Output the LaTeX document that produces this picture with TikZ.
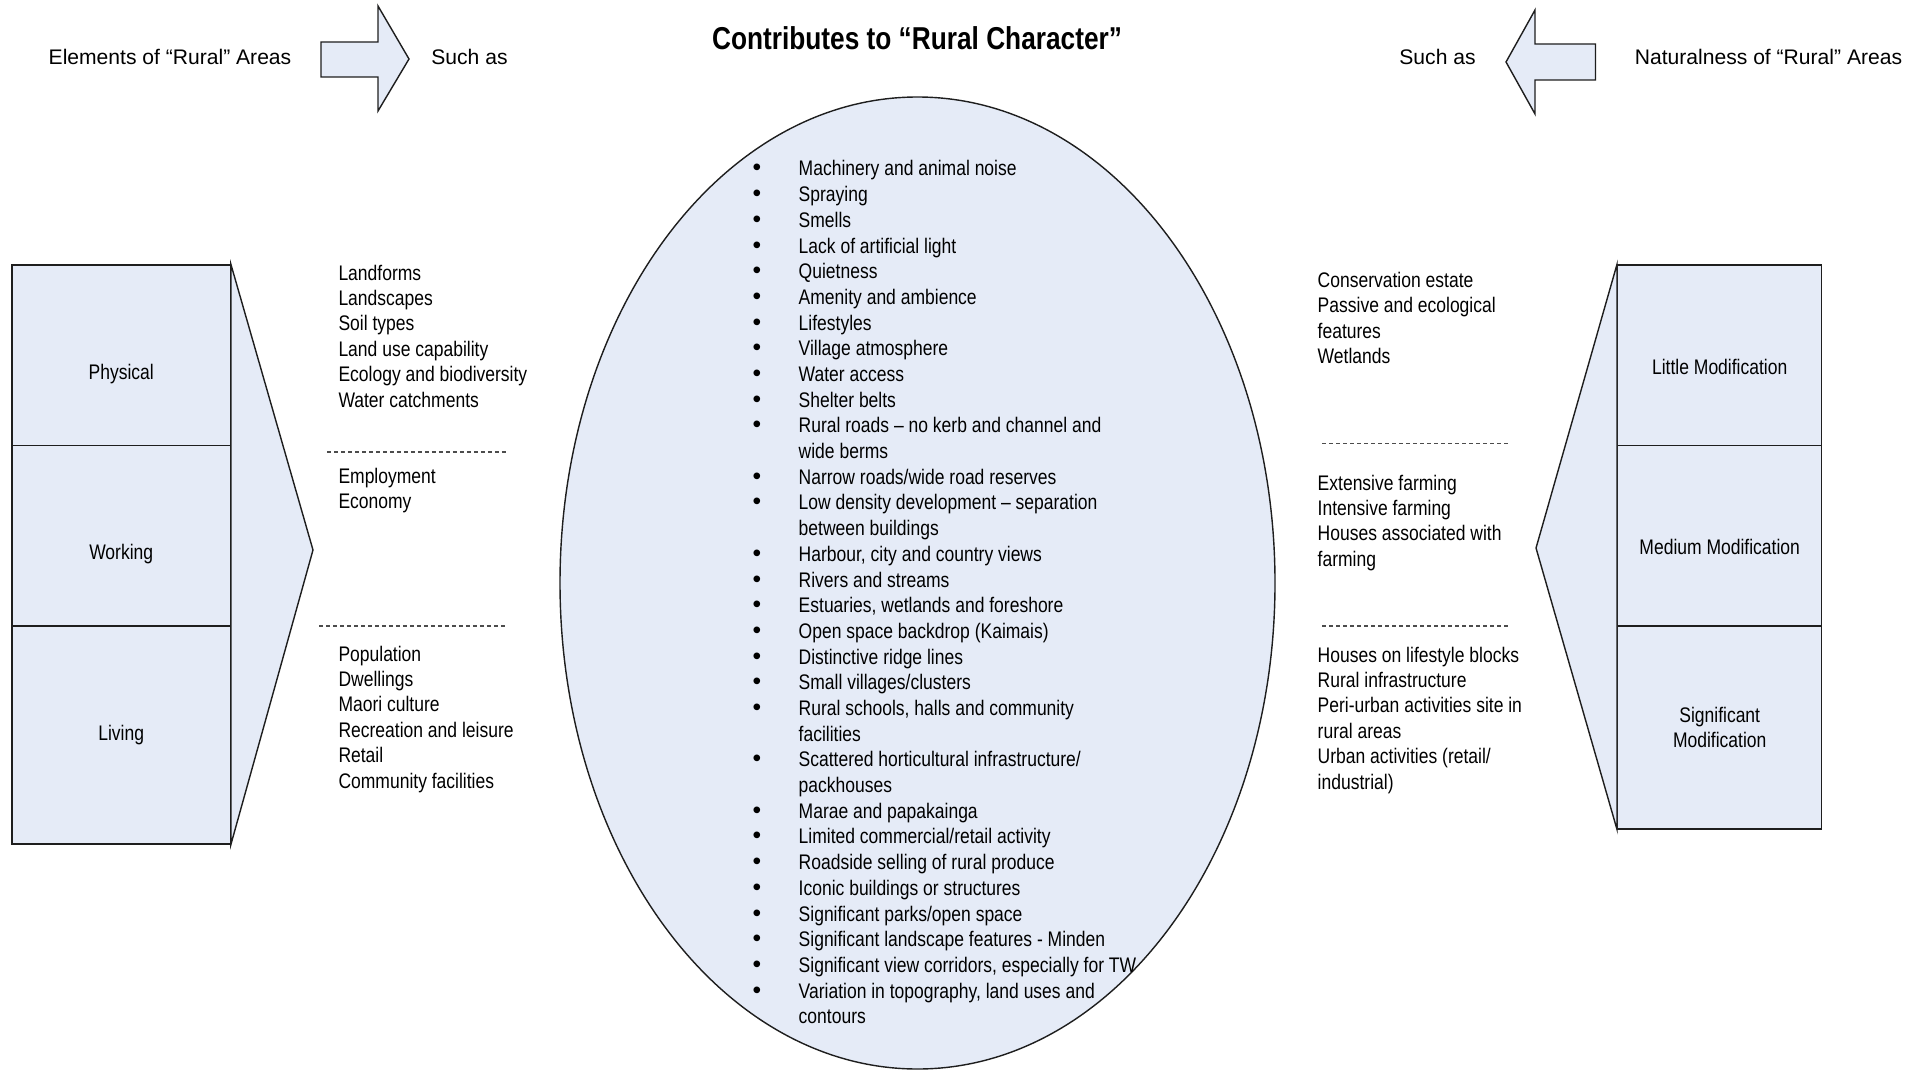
\documentclass[tikz,border=0pt]{standalone}
\usepackage{fontspec}
\setmainfont{Liberation Sans}
\newfontfamily\narrowsans{Liberation Sans}[FakeStretch=0.83]
\usetikzlibrary{positioning,shapes.geometric}
\definecolor{paleFill}{RGB}{229,235,247}
\definecolor{lineInk}{RGB}{30,30,30}
\newcommand{\itemdot}{{\rmfamily\fontsize{7}{7.3}\selectfont\textbullet}}
\tikzset{
  levelbox/.style={draw=lineInk, line width=0.4pt, fill=paleFill, align=center, inner sep=0pt, font=\narrowsans\fontsize{6}{7.2}\selectfont},
  leftbox/.style={levelbox, minimum width=2.18cm, minimum height=2.18cm},
  rightbox/.style={levelbox, minimum width=2.04cm, minimum height=2.03cm},
  funnel/.style={draw=lineInk, line width=0.4pt, fill=paleFill},
  blockarrow/.style={draw=lineInk, line width=0.4pt, fill=paleFill},
  headtext/.style={inner sep=0pt, font=\fontsize{6}{7.2}\selectfont},
  listtext/.style={anchor=base west, inner sep=0pt, font=\narrowsans\fontsize{6}{7.25}\selectfont},
  divider/.style={draw=black!70, line width=0.3pt, dash pattern=on 0.04cm off 0.03cm}
}

\begin{document}
\begin{tikzpicture}
  \useasboundingbox (0,0) rectangle (19.26,-10.74);

  % headings and the two block arrows
  \node[inner sep=0pt, font=\narrowsans\bfseries\fontsize{9}{10}\selectfont] (title) at (9.17,-0.38) {Contributes to “Rural Character”};
  \node[headtext] (elemhead) at (1.70,-0.57) {Elements of “Rural” Areas};
  \node[headtext] (suchleft) at (4.695,-0.57) {Such as};
  \node[headtext] (suchright) at (14.375,-0.57) {Such as};
  \node[headtext] (naturehead) at (17.685,-0.57) {Naturalness of “Rural” Areas};
  \draw[blockarrow] (3.21,-0.42) -- (3.78,-0.42) -- (3.78,-0.06) -- (4.09,-0.59) -- (3.78,-1.11) -- (3.78,-0.77) -- (3.21,-0.77) -- cycle;
  \draw[blockarrow] (15.955,-0.44) -- (15.35,-0.44) -- (15.35,-0.10) -- (15.06,-0.62) -- (15.35,-1.14) -- (15.35,-0.80) -- (15.955,-0.80) -- cycle;

  % central oval
  \node[ellipse, draw=lineInk, line width=0.4pt, fill=paleFill, minimum width=7.15cm, minimum height=9.72cm, inner sep=0pt] (oval) at (9.175,-5.83) {};
  \node[listtext, font=\narrowsans\fontsize{6}{7.31}\selectfont] (traits) at (7.52,-1.76) {\begin{tabular}[t]{@{}p{0.46cm}@{}l@{}}
    \itemdot & Machinery and animal noise\\
    \itemdot & Spraying\\
    \itemdot & Smells\\
    \itemdot & Lack of artificial light\\
    \itemdot & Quietness\\
    \itemdot & Amenity and ambience\\
    \itemdot & Lifestyles\\
    \itemdot & Village atmosphere\\
    \itemdot & Water access\\
    \itemdot & Shelter belts\\
    \itemdot & Rural roads – no kerb and channel and\\
             & wide berms\\
    \itemdot & Narrow roads/wide road reserves\\
    \itemdot & Low density development – separation\\
             & between buildings\\
    \itemdot & Harbour, city and country views\\
    \itemdot & Rivers and streams\\
    \itemdot & Estuaries, wetlands and foreshore\\
    \itemdot & Open space backdrop (Kaimais)\\
    \itemdot & Distinctive ridge lines\\
    \itemdot & Small villages/clusters\\
    \itemdot & Rural schools, halls and community\\
             & facilities\\
    \itemdot & Scattered horticultural infrastructure/\\
             & packhouses\\
    \itemdot & Marae and papakainga\\
    \itemdot & Limited commercial/retail activity\\
    \itemdot & Roadside selling of rural produce\\
    \itemdot & Iconic buildings or structures\\
    \itemdot & Significant parks/open space\\
    \itemdot & Significant landscape features - Minden\\
    \itemdot & Significant view corridors, especially for TW\\
    \itemdot & Variation in topography, land uses and\\
             & contours
  \end{tabular}};

  % elements stack on the left
  \node[leftbox] (phys) at (1.212,-3.74) {Physical};
  \node[leftbox, below=-0.39cm of phys] (work) {Working};
  \node[leftbox, below=-0.39cm of work] (live) {Living};
  \coordinate (leftTip) at (3.13,-5.50);
  \draw[funnel] (phys.north east) -- (leftTip) -- (live.south east) -- cycle;

  \node[listtext] (physlist) at (3.378,-2.80) {\begin{tabular}[t]{@{}l@{}}Landforms\\Landscapes\\Soil types\\Land use capability\\Ecology and biodiversity\\Water catchments\end{tabular}};
  \node[listtext] (worklist) at (3.378,-4.83) {\begin{tabular}[t]{@{}l@{}}Employment\\Economy\end{tabular}};
  \node[listtext] (livelist) at (3.378,-6.61) {\begin{tabular}[t]{@{}l@{}}Population\\Dwellings\\Maori culture\\Recreation and leisure\\Retail\\Community facilities\end{tabular}};
  \draw[divider] (3.27,-4.52) -- (5.07,-4.52);
  \draw[divider] (3.19,-6.26) -- (5.07,-6.26);

  % naturalness stack on the right
  \node[rightbox] (little) at (17.197,-3.665) {Little Modification};
  \node[rightbox, below=-0.24cm of little] (medium) {Medium Modification};
  \node[rightbox, below=-0.24cm of medium] (signif) {Significant\\Modification};
  \coordinate (rightTip) at (15.36,-5.48);
  \draw[funnel] (little.north west) -- (rightTip) -- (signif.south west) -- cycle;

  \node[listtext] (consvlist) at (13.17,-2.875) {\begin{tabular}[t]{@{}l@{}}Conservation estate\\Passive and ecological\\features\\Wetlands\end{tabular}};
  \node[listtext] (farmlist) at (13.17,-4.90) {\begin{tabular}[t]{@{}l@{}}Extensive farming\\Intensive farming\\Houses associated with\\farming\end{tabular}};
  \node[listtext] (urbanlist) at (13.17,-6.62) {\begin{tabular}[t]{@{}l@{}}Houses on lifestyle blocks\\Rural infrastructure\\Peri-urban activities site in\\rural areas\\Urban activities (retail/\\industrial)\end{tabular}};
  \draw[divider] (13.22,-4.434) -- (15.10,-4.434);
  \draw[divider] (13.22,-6.26) -- (15.10,-6.26);
\end{tikzpicture}
\end{document}
